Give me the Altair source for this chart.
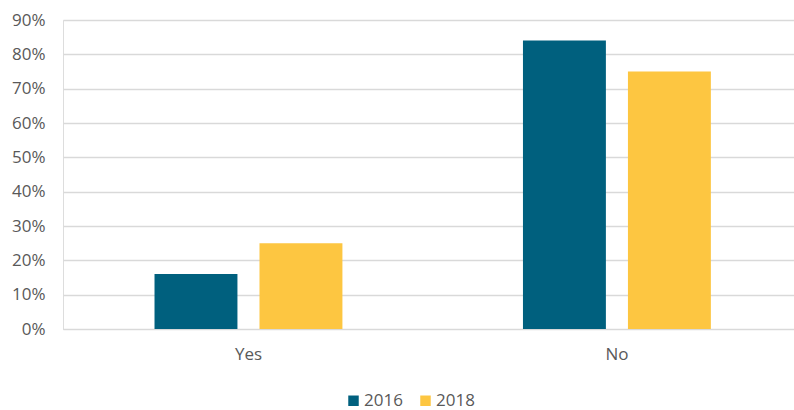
import altair as alt
import pandas as pd

categories = ["Yes", "No"]
years = ["2016", "2018"]
values_2016 = [0.16, 0.84]
values_2018 = [0.25, 0.75]
colors = ["#00607E", "#FDC641"]

rows = []
for i, c in enumerate(categories):
    rows.append({"answer": c, "year": years[0], "value": values_2016[i]})
    rows.append({"answer": c, "year": years[1], "value": values_2018[i]})
df = pd.DataFrame(rows)

font = "Open Sans"
grey = "#595959"

chart = alt.Chart(df).mark_bar().encode(
    x=alt.X("answer:N", sort=categories, title=None,
            scale=alt.Scale(paddingInner=0.49, paddingOuter=0.237, align=0.524),
            axis=alt.Axis(labelAngle=0, ticks=False, domain=True, domainColor="#D9D9D9",
                          labelFont=font, labelFontSize=17, labelColor=grey, labelPadding=17)),
    xOffset=alt.XOffset("year:N", sort=years,
                        scale=alt.Scale(paddingInner=0.21, paddingOuter=0)),
    y=alt.Y("value:Q", title=None,
            scale=alt.Scale(domain=[0, 0.9], nice=False),
            axis=alt.Axis(values=[i / 10 for i in range(10)], format=".0%", ticks=False,
                          domain=False, gridColor="#D9D9D9", gridWidth=1.3,
                          labelFont=font, labelFontSize=17, labelColor=grey, labelPadding=18)),
    color=alt.Color("year:N", sort=years, title=None,
                    scale=alt.Scale(domain=years, range=colors),
                    legend=alt.Legend(orient="none", legendX=282, legendY=372, direction="horizontal",
                                      symbolType="square", symbolSize=110, symbolStrokeWidth=0,
                                      labelFont=font, labelFontSize=17, labelColor=grey,
                                      labelOffset=2, columnPadding=14)),
).properties(
    width=731, height=309,
    autosize=alt.AutoSizeParams(type="none"),
    padding={"left": 63, "top": 20, "right": 0, "bottom": 81},
).configure_view(stroke=None).configure(background="white")

chart.save("out.html", embed_options={"renderer": "svg", "actions": False})
